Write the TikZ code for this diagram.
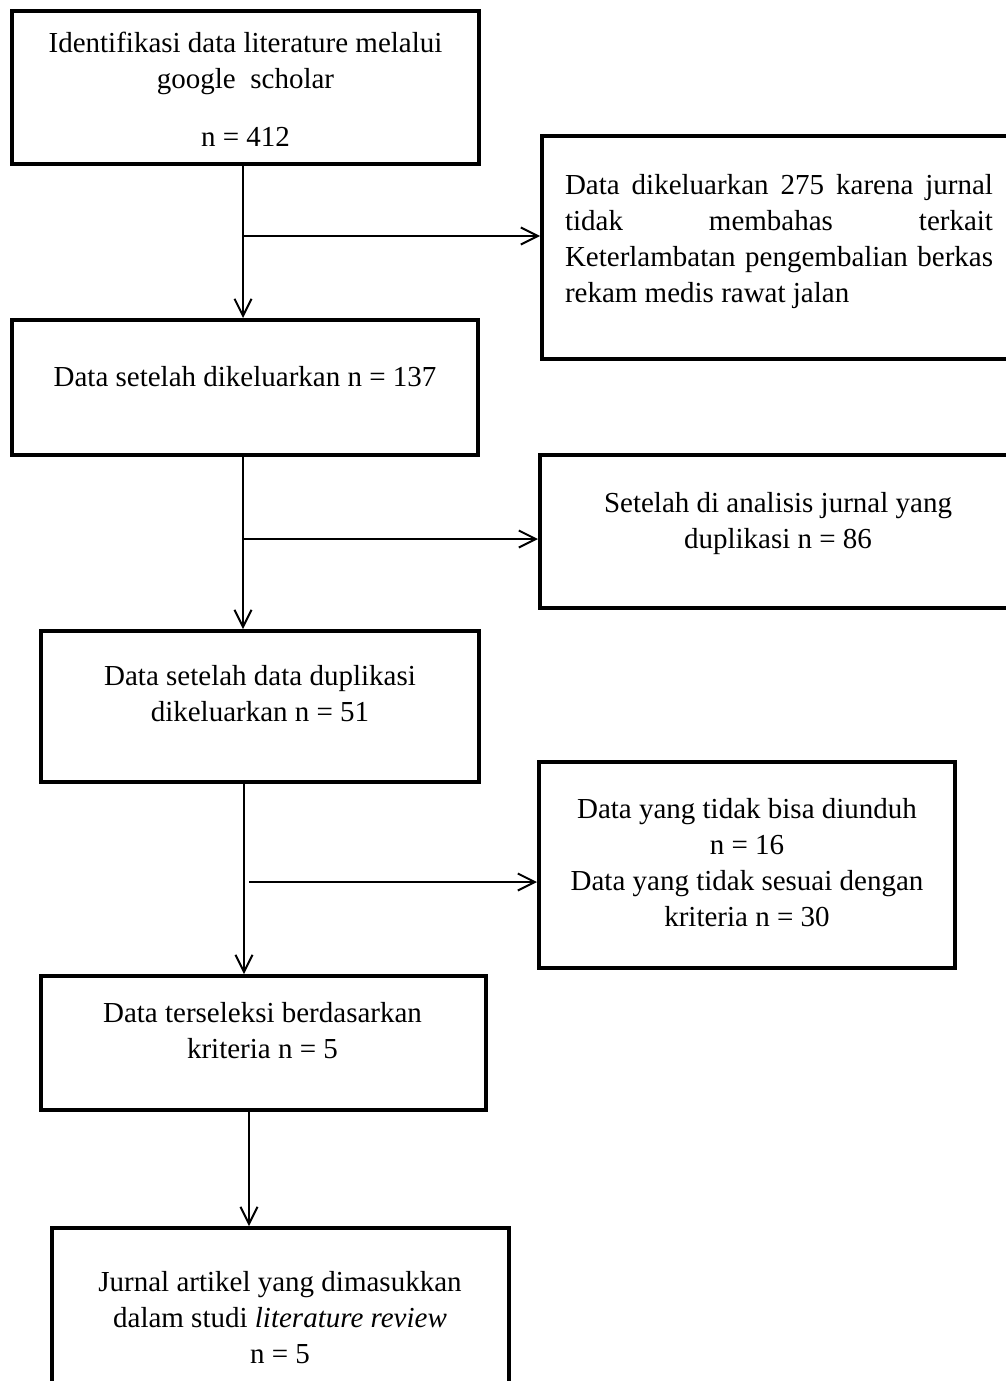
\documentclass[tikz,border=0pt]{standalone}
\usepackage{fontspec}
\setmainfont{Liberation Serif}
\usetikzlibrary{arrows.meta}
\tikzset{
  kotak/.style={draw, line width=4pt, rectangle, inner sep=0pt},
  teks/.style={align=center, inner sep=0pt, font=\fontsize{29}{36}\selectfont},
  garis/.style={line width=1.8pt, -{Straight Barb[length=17pt,width=17pt,line width=2pt]}}
}
\begin{document}
\begin{tikzpicture}[x=1pt,y=-1pt]
  \useasboundingbox (0,0) rectangle (1006,1381);
  % kotak kiri
  \node[kotak, minimum width=467pt, minimum height=153pt] (b1) at (245.5,87.5) {};
  \node[kotak, minimum width=466pt, minimum height=135pt] (b2) at (245,387.5) {};
  \node[kotak, minimum width=438pt, minimum height=151pt] (b3) at (260,706.5) {};
  \node[kotak, minimum width=445pt, minimum height=134pt] (b4) at (263.5,1043) {};
  \node[kotak, minimum width=457pt, minimum height=180pt] (b5) at (280.5,1318) {};
  % kotak kanan
  \node[kotak, minimum width=474pt, minimum height=223pt] (r1) at (779,247.5) {};
  \node[kotak, minimum width=476pt, minimum height=153pt] (r2) at (778,531.5) {};
  \node[kotak, minimum width=416pt, minimum height=206pt] (r3) at (747,865) {};
  % isi
  \node[teks] (t1) at (245.5,89) {Identifikasi data literature melalui\\ google\ \ scholar\\[22pt] n = 412};
  \node[teks] (t2) at (245,377) {Data setelah dikeluarkan n = 137};
  \node[teks] (t3) at (260,694) {Data setelah data duplikasi\\ dikeluarkan n = 51};
  \node[teks] (t4) at (262.5,1031) {Data terseleksi berdasarkan\\ kriteria n = 5};
  \node[teks] (t5) at (280,1318) {Jurnal artikel yang dimasukkan\\ dalam studi \textit{literature review}\\ n = 5};
  \node[teks, align=justify, text width=428pt] (s1) at (779,241.3) {\hyphenpenalty=10000\tolerance=10000
    Data dikeluarkan 275 karena jurnal\linebreak tidak membahas terkait\linebreak
    Keterlambatan pengembalian berkas\linebreak rekam medis rawat jalan};
  \node[teks] (s2) at (778,523.8) {Setelah di analisis jurnal yang\\ duplikasi n = 86};
  \node[teks] (s3) at (747,862.6) {Data yang tidak bisa diunduh\\ n = 16\\ Data yang tidak sesuai dengan\\ kriteria n = 30};
  % panah
  \coordinate (k1) at (243,236);
  \coordinate (k2) at (243,539);
  \coordinate (k3) at (244,882);
  \coordinate (k4) at (249,1160);
  \draw[garis] (b1.south -| k1) -- (b2.north -| k1);
  \draw[garis] (k1) -- (k1 -| r1.west);
  \draw[garis] (b2.south -| k2) -- (b3.north -| k2);
  \draw[garis] (k2) -- (k2 -| r2.west);
  \draw[garis] (b3.south -| k3) -- (b4.north -| k3);
  \draw[garis] ([xshift=5pt]k3) -- (k3 -| r3.west);
  \draw[garis] (b4.south -| k4) -- (b5.north -| k4);
\end{tikzpicture}
\end{document}
